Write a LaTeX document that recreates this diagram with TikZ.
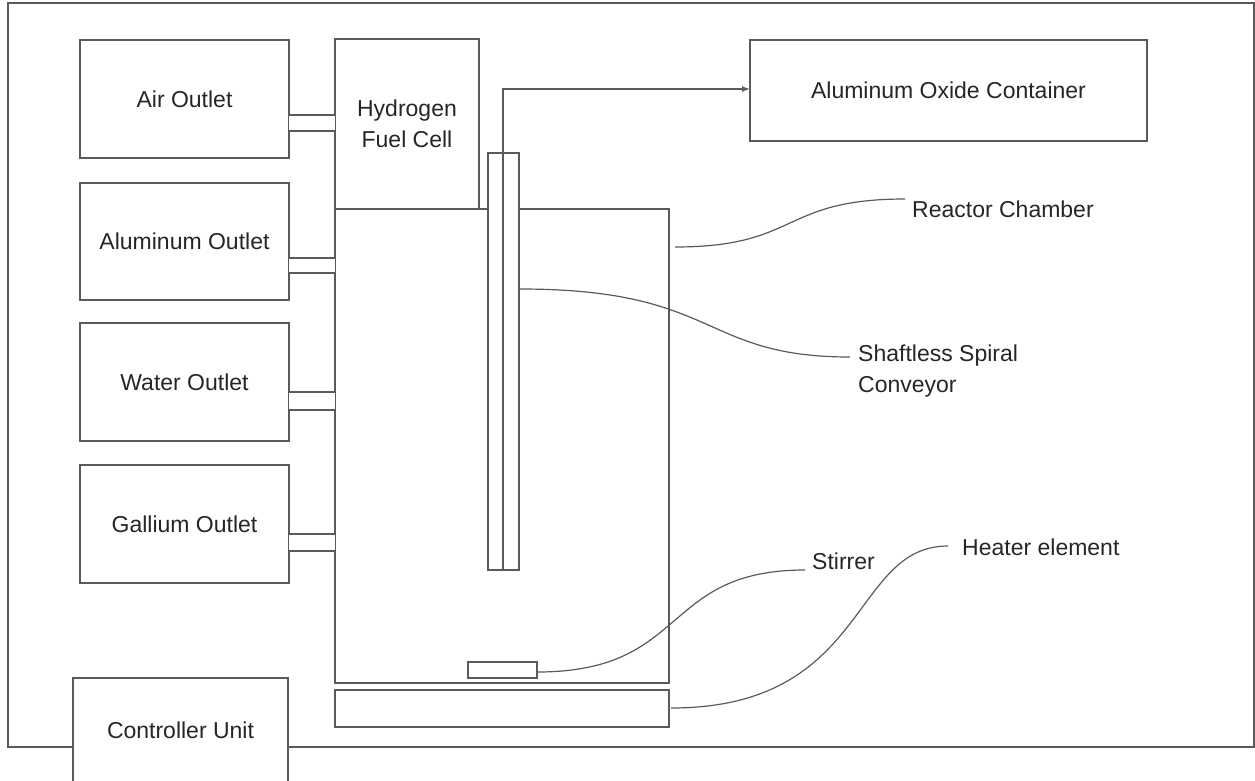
\documentclass[tikz,border=0pt]{standalone}
\usepackage{fontspec}
\setmainfont{Liberation Sans}
\usetikzlibrary{arrows.meta}
\definecolor{ln}{HTML}{5A5A5A}
\definecolor{tx}{HTML}{262626}
\tikzset{
  box/.style={draw=ln, line width=1.4pt, fill=white, rectangle, inner sep=0pt, outer sep=0pt, text=tx, font=\fontsize{23}{31}\selectfont, align=center},
  pipe/.style={draw=ln, line width=1.4pt, fill=white, rectangle, inner sep=0pt, outer sep=0pt},
  lbl/.style={anchor=west, inner sep=0pt, text=tx, font=\fontsize{23}{31}\selectfont, align=left},
  lead/.style={draw=ln, line width=1.2pt},
}
\begin{document}
\begin{tikzpicture}[x=1pt, y=-1pt]
\useasboundingbox (0,0) rectangle (1255,780);
\clip (0,0) rectangle (1255,780);
% outer frame
\draw[ln, line width=1.4pt] (8,3) rectangle (1254,747);
% left outlet boxes
\node[box, minimum width=209, minimum height=118] (air) at (184.5,99) {Air Outlet};
\node[box, minimum width=209, minimum height=117] (alu) at (184.5,241.5) {Aluminum Outlet};
\node[box, minimum width=209, minimum height=118] (wat) at (184.5,382) {Water Outlet};
\node[box, minimum width=209, minimum height=118] (gal) at (184.5,524) {Gallium Outlet};
\node[box, minimum width=215, minimum height=104] (ctrl) at (180.5,730) {Controller Unit};
% fuel cell and reactor
\node[box, minimum width=144, minimum height=170] (h2) at (407,124) {Hydrogen\\Fuel Cell};
\node[box, minimum width=334, minimum height=474] (reac) at (502,446) {};
\node[box, minimum width=334, minimum height=37] (heat) at (502,708.5) {};
\node[box, minimum width=69, minimum height=16] (stir) at (502.5,670) {};
% pipes
\node[pipe, minimum width=47, minimum height=16] (p1) at (312,123) {};
\node[pipe, minimum width=47, minimum height=15] (p2) at (312,265.5) {};
\node[pipe, minimum width=47, minimum height=18] (p3) at (312,401) {};
\node[pipe, minimum width=47, minimum height=17] (p4) at (312,542.5) {};
% conveyor
\node[pipe, minimum width=15, minimum height=417] (cl) at (495.5,361.5) {};
\node[pipe, minimum width=16, minimum height=417] (cr) at (511,361.5) {};
% oxide container
\node[box, minimum width=397, minimum height=101] (ox) at (948.5,90.5) {Aluminum Oxide Container};
\coordinate (ctop) at (503,153);
\coordinate (bend) at (503,89);
\draw[ln, line width=1.4pt, -{Latex[length=8pt,width=6pt]}] (ctop) -- (bend) -- (ox.west |- bend);
% labels
\node[lbl] (lr) at (912,209) {Reactor Chamber};
\node[lbl, anchor=north west] (lc) at (858,345) {Shaftless Spiral\\Conveyor};
\node[lbl] (ls) at (812,561) {Stirrer};
\node[lbl] (lh) at (962,547) {Heater element};
% leader curves
\coordinate (r0) at (675,247);
\coordinate (r1) at (905,199);
\draw[lead] (r0) .. controls (800,247) and (780,199) .. (r1);
\coordinate (c0) at (520,289);
\coordinate (c1) at (850,357);
\draw[lead] (c0) .. controls (720,289) and (700,357) .. (c1);
\coordinate (s0) at (537,672);
\coordinate (s1) at (805,570);
\draw[lead] (s0) .. controls (690,672) and (660,570) .. (s1);
\coordinate (h0) at (671,708);
\coordinate (h1) at (948,546);
\draw[lead] (h0) .. controls (870,708) and (850,546) .. (h1);
\end{tikzpicture}
\end{document}
